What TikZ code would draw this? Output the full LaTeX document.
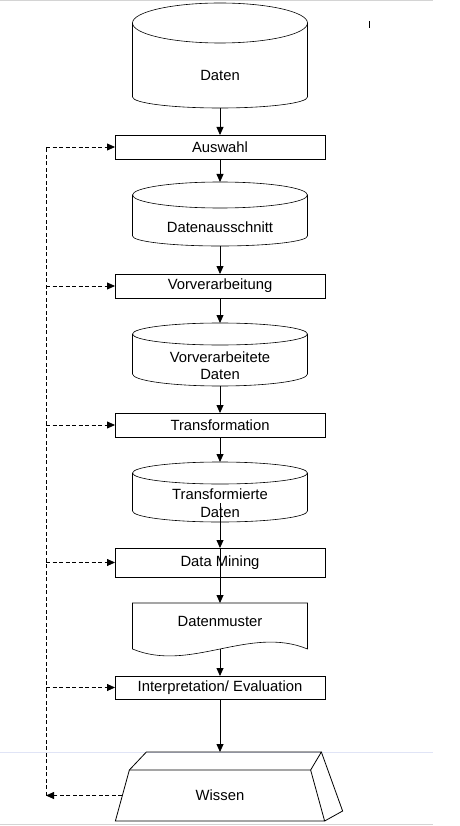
\documentclass[tikz,border=0pt]{standalone}
\usepackage{fontspec}
\setmainfont{Liberation Sans}
\usetikzlibrary{shapes.geometric,arrows.meta,positioning,calc}
\definecolor{PageGray}{RGB}{212,212,212}
\definecolor{PageBlue}{RGB}{224,228,246}

% outline of a data store round the body node #1: top ellipse #2, bottom arc #3
\newcommand{\drawstore}[3]{%
  \draw [drum] ($(#1.north)+(0,#2)$) ellipse [x radius=87.5, y radius=#2];
  \draw [drum] ($(#1.north west)+(0,#2)$) -- ($(#1.south west)+(0,#3)$)
    arc [start angle=180, end angle=360, x radius=87.5, y radius=#3] -- ($(#1.north east)+(0,#2)$);
  \coordinate (#1 top) at ($(#1.north)+(0,2*#2)$);
}

\begin{document}
\begin{tikzpicture}[x=1pt, y=1pt, node distance=26pt, font=\fontsize{14.8}{17.5}\selectfont]
  \tikzstyle{process} = [rectangle, draw, line width=0.8pt, minimum width=210pt, minimum height=24pt, inner sep=0pt, outer sep=0pt, align=center]
  \tikzstyle{store} = [rectangle, minimum width=175pt, inner sep=0pt, outer sep=0pt, align=center]
  \tikzstyle{drum} = [line width=0.6pt]
  \tikzstyle{docbox} = [rectangle, minimum width=175pt, minimum height=46pt, inner sep=0pt, outer sep=0pt, text depth=8.5pt]
  \tikzstyle{knowledge} = [trapezium, trapezium left angle=71, trapezium right angle=71, trapezium stretches=true, draw, line width=0.8pt, minimum width=210pt, minimum height=51pt, inner sep=0pt, outer sep=0pt]
  \tikzstyle{line} = [draw, line width=0.8pt, -{Triangle[length=8pt,width=7pt]}]
  \tikzstyle{feedback} = [draw, line width=0.8pt, dash pattern=on 4pt off 2.5pt]
  \tikzstyle{feedarrow} = [feedback, -{Triangle[length=8pt,width=7pt]}]

  \useasboundingbox (0,0) rectangle (459,-826);
  % page edges
  \draw [PageGray, line width=1.2pt] (0,-0.6) -- (433,-0.6);
  \draw [PageBlue, line width=0.8pt] (0,-752) -- (433,-752);
  \draw [PageGray, line width=1.2pt] (0,-824.5) -- (433,-824.5);
  \draw [line width=0.8pt] (369,-21) -- (369,-28);

  \node [store, minimum height=65pt, anchor=north] (daten) at (220,-43) {Daten};
  \node [process, below=27pt of daten] (auswahl) {Auswahl};
  \node [store, minimum height=38pt, below=49pt of auswahl] (ausschnitt) {Datenausschnitt};
  \node [process, below=28pt of ausschnitt] (vorverarbeitung) {Vorverarbeitung};
  \node [store, minimum height=41pt, below=47pt of vorverarbeitung] (vorverarbeitet) {Vorverarbeitete\\Daten};
  \node [process, below=27pt of vorverarbeitet] (transformation) {Transformation};
  \node [store, minimum height=38pt, below=47pt of transformation] (transformiert) {Transformierte\\Daten};
  \node [process, minimum height=29pt, below=of transformiert] (mining) {Data Mining};
  \node [docbox, below=of mining] (muster) {Datenmuster};
  \node [process, minimum height=23pt, below=27pt of muster] (interpretation) {Interpretation/ Evaluation};
  \node [knowledge, below=71pt of interpretation] (wissen) {Wissen};

  \drawstore{daten}{20}{11}
  \drawstore{ausschnitt}{13}{10}
  \drawstore{vorverarbeitet}{11}{12}
  \drawstore{transformiert}{11}{11}

  % wavy document edge
  \draw [drum] (muster.south west) -- (muster.north west) -- (muster.north east) -- (muster.south east)
    .. controls ($(muster.south east)+(-58,24)$) and ($(muster.south west)+(58,-24)$) .. (muster.south west);

  % block faces of Wissen
  \draw [line width=0.8pt] (wissen.top left corner) -- ++(17,18) coordinate (backleft) -- ++(175,0) coordinate (backright) -- (wissen.top right corner);
  \draw [line width=0.8pt] (backright) -- ($(wissen.bottom right corner)+(18,10)$) -- (wissen.bottom right corner);

  \path [line] (daten) -- (auswahl);
  \path [line] (auswahl) -- (ausschnitt top);
  \path [line] (ausschnitt) -- (vorverarbeitung);
  \path [line] (vorverarbeitung) -- (vorverarbeitet top);
  \path [line] (vorverarbeitet) -- (transformation);
  \path [line] (transformation) -- (transformiert top);
  \path [line] (transformiert.center) -- (mining.north);
  \path [line] (mining.north) -- (muster.north);
  \path [line] (muster) -- (interpretation);
  \path [line] (interpretation) -- (interpretation.south |- backleft);

  % feedback loop
  \coordinate (loop) at ($(wissen.west -| auswahl.west)+(-69,0)$);
  \path [feedarrow] (wissen.west) -- (loop);
  \path [feedback] (loop) -- (loop |- auswahl.west);
  \foreach \stage in {auswahl, vorverarbeitung, transformation, mining, interpretation}
    \path [feedarrow] (loop |- \stage.west) -- (\stage.west);
\end{tikzpicture}
\end{document}
